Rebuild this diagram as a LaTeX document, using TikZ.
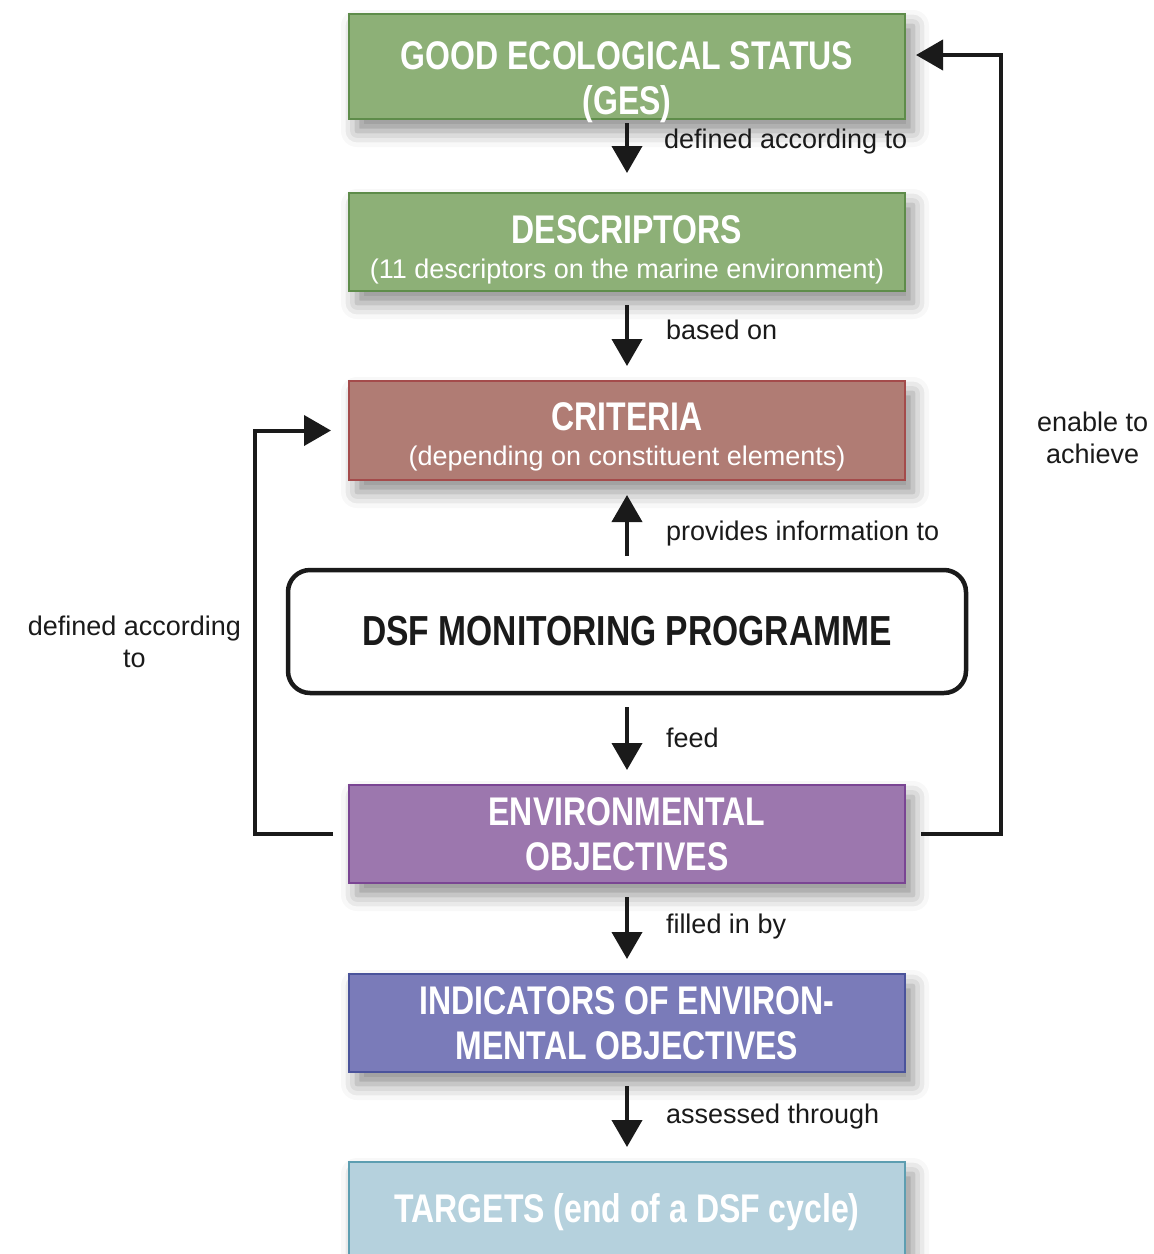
\documentclass[tikz,border=0pt]{standalone}
\usepackage{fontspec}
\setmainfont{Liberation Sans}
\newfontfamily\narrowfont[FakeStretch=0.8]{Liberation Sans}
\usetikzlibrary{arrows.meta,positioning,shadows.blur}

\definecolor{gesGreen}{HTML}{8DB077}
\definecolor{gesGreenLine}{HTML}{5E8C4A}
\definecolor{critRed}{HTML}{B07C74}
\definecolor{critRedLine}{HTML}{A44B4B}
\definecolor{envPurple}{HTML}{9C77AE}
\definecolor{envPurpleLine}{HTML}{7A4593}
\definecolor{indBlue}{HTML}{7A7BB9}
\definecolor{indBlueLine}{HTML}{4A539B}
\definecolor{tgtCyan}{HTML}{B5D1DD}
\definecolor{tgtCyanLine}{HTML}{5D9EB1}
\definecolor{inkBlack}{HTML}{1A1A1A}

\newcommand\headFont{\narrowfont\bfseries\fontsize{40}{45}\selectfont}
\newcommand\subFont{\normalfont\fontsize{27}{32}\selectfont}

\tikzset{%
  >={Triangle[width=30pt,length=27pt]},
  % Specifications for style of nodes:
     base/.style = {rectangle, draw, line width=2.5pt, inner sep=0pt, outer sep=0pt,
                    minimum width=556pt, minimum height=98pt,
                    align=center, text=white, font=\headFont,
                    blur shadow={shadow xshift=8pt, shadow yshift=-12pt,
                                 shadow blur radius=16pt, shadow opacity=45}},
    greenBox/.style = {base, fill=gesGreen, draw=gesGreenLine},
    redBox/.style = {base, fill=critRed, draw=critRedLine},
    purpleBox/.style = {base, fill=envPurple, draw=envPurpleLine},
    blueBox/.style = {base, fill=indBlue, draw=indBlueLine},
    cyanBox/.style = {base, fill=tgtCyan, draw=tgtCyanLine},
    programmeBox/.style = {rectangle, rounded corners=22pt, draw=inkBlack,
                           line width=4.5pt, fill=white, inner sep=0pt, outer sep=0pt,
                           minimum width=678pt, minimum height=123pt,
                           font=\narrowfont\bfseries\fontsize{42}{47}\selectfont,
                           text=inkBlack},
    arrowText/.style = {font=\subFont, text=inkBlack, align=center, inner sep=0pt},
    flow/.style = {->, line width=4pt, draw=inkBlack, shorten <=14pt, shorten >=15pt},
    loopArrow/.style = {->, line width=4pt, draw=inkBlack, shorten <=16pt, shorten >=18pt},
}

\begin{document}
\begin{tikzpicture}[x=1pt, y=-1pt, node distance=90pt]
  \useasboundingbox (0,0) rectangle (1154,1254);
  % Specification of nodes (position, etc.)
  \node (ges)            [greenBox, minimum height=105pt] at (627,66.5)
                         {\raisebox{0pt}[50pt][0pt]{GOOD ECOLOGICAL STATUS}\\
                          \raisebox{0pt}[0pt][0pt]{(GES)}};
  \node (descriptors)    [greenBox, below=74pt of ges]
                         {\rule{0pt}{44pt}DESCRIPTORS\\[-10pt]
                          {\subFont (11 descriptors on the marine environment)}};
  \node (criteria)       [redBox, minimum height=99pt, below=of descriptors]
                         {\rule{0pt}{40pt}CRITERIA\\[-10pt]
                          {\subFont (depending on constituent elements)}};
  \node (monitoring)     [programmeBox, below=of criteria]
                         {DSF MONITORING PROGRAMME};
  \node (envObjectives)  [purpleBox, below=92pt of monitoring]
                         {ENVIRONMENTAL\\OBJECTIVES};
  \node (indicators)     [blueBox, below=91pt of envObjectives]
                         {INDICATORS OF ENVIRON-\\MENTAL OBJECTIVES};
  \node (targets)        [cyanBox, minimum height=100pt, below=of indicators]
                         {TARGETS (end of a DSF cycle)};

  % Specification of lines between nodes specified above
  \draw[flow, shorten <=4pt, shorten >=20pt] (ges) to
        node[arrowText, pos=0.3, right=35pt] {defined according to} (descriptors);
  \draw[flow] (descriptors) to
        node[arrowText, pos=0.43, right=37pt] {based on} (criteria);
  \draw[flow] (monitoring) to
        node[arrowText, pos=0.41, right=37pt] {provides information to} (criteria);
  \draw[flow] (monitoring) to
        node[arrowText, pos=0.49, right=37pt] {feed} (envObjectives);
  \draw[flow] (envObjectives) to
        node[arrowText, pos=0.48, right=37pt] {filled in by} (indicators);
  \draw[flow] (indicators) to
        node[arrowText, pos=0.5, right=37pt] {assessed through} (targets);

  \draw[loopArrow] (envObjectives.west) -- ++(-94,0) |-
        node[arrowText, pos=0.25, left=12pt, yshift=-10pt] {defined according\\to} (criteria.west);
  \draw[loopArrow, shorten >=11pt] (envObjectives.east) -- ++(96,0) |-
        node[arrowText, pos=0.25, right=34pt, yshift=7pt] {enable to\\achieve} ([yshift=11.5pt]ges.east);
\end{tikzpicture}
\end{document}
